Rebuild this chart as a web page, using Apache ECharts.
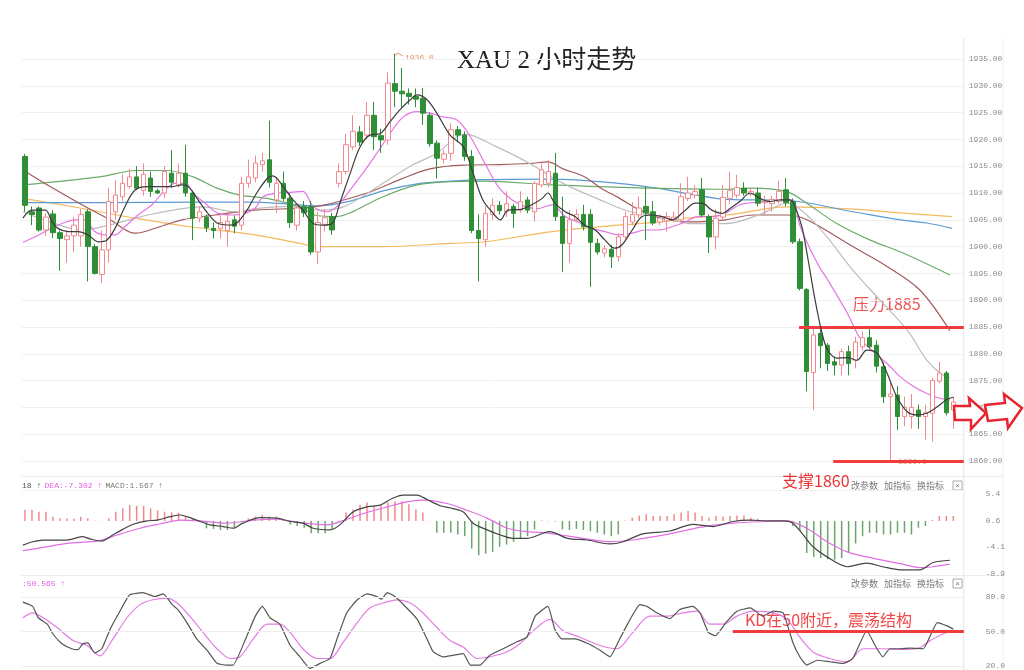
<!DOCTYPE html>
<html><head><meta charset="utf-8">
<script src="https://cdn.jsdelivr.net/npm/echarts@6/dist/echarts.min.js"></script>
<style>html,body{margin:0;padding:0;background:#fff}#c{width:1024px;height:670px}</style>
</head><body><div id="c"></div>
<script>
// ---------- DATA ----------
// candles: [open, close, low, high]
const ohlc = [
[1916.8,1907.7,1906.5,1917.3],[1906.5,1906.0,1904.0,1907.5],[1907.2,1903.1,1902.8,1907.5],[1903.1,1905.5,1902.0,1906.2],
[1906.1,1902.6,1901.6,1906.8],[1902.6,1901.5,1895.5,1903.0],[1901.3,1902.0,1897.0,1903.0],[1902.0,1904.0,1899.0,1905.5],
[1902.0,1906.0,1900.0,1907.0],[1906.5,1900.0,1893.5,1907.0],[1900.0,1895.0,1894.8,1900.5],[1894.8,1899.4,1893.2,1903.0],
[1899.4,1908.4,1897.0,1911.0],[1906.5,1909.6,1905.0,1912.4],[1909.3,1911.8,1908.5,1913.5],[1911.2,1913.0,1910.8,1914.5],
[1913.0,1910.9,1910.5,1915.0],[1910.5,1913.5,1909.5,1915.5],[1912.8,1910.3,1909.3,1914.0],[1910.4,1910.0,1909.8,1910.8],
[1910.0,1914.0,1909.0,1915.0],[1913.7,1912.0,1911.0,1918.0],[1911.5,1913.7,1911.0,1915.5],[1913.7,1910.0,1909.3,1919.0],
[1910.0,1905.3,1901.2,1910.5],[1905.3,1906.5,1904.5,1907.5],[1905.5,1903.5,1902.7,1906.0],[1903.4,1903.0,1901.5,1904.5],
[1903.4,1904.5,1901.5,1906.0],[1903.0,1904.7,1900.0,1906.0],[1905.0,1903.8,1902.5,1905.8],[1904.0,1911.8,1903.0,1913.0],
[1911.8,1913.0,1911.0,1916.2],[1912.8,1915.6,1912.0,1917.0],[1915.3,1916.0,1914.0,1917.5],[1916.2,1912.0,1911.0,1923.5],
[1908.7,1911.8,1906.3,1913.0],[1911.8,1909.0,1908.5,1914.0],[1909.0,1904.5,1903.5,1910.0],[1904.0,1907.2,1903.0,1908.0],
[1907.5,1906.3,1905.5,1908.5],[1907.5,1899.0,1898.5,1908.5],[1899.0,1904.5,1896.8,1906.5],[1904.0,1905.4,1902.8,1907.0],
[1905.6,1903.1,1902.2,1906.3],[1911.8,1914.0,1911.0,1915.5],[1914.0,1919.0,1913.5,1921.0],[1918.6,1921.5,1918.0,1924.5],
[1921.4,1919.5,1918.8,1922.5],[1920.8,1924.5,1920.0,1927.0],[1924.5,1920.5,1918.0,1927.0],[1920.7,1919.9,1917.5,1922.0],
[1919.9,1930.5,1919.0,1932.5],[1930.4,1929.0,1926.0,1936.0],[1929.0,1928.5,1926.0,1933.3],[1928.6,1928.0,1926.5,1929.5],
[1928.0,1927.5,1926.0,1929.5],[1927.7,1924.9,1922.7,1929.6],[1924.5,1919.2,1918.6,1925.0],[1919.3,1916.5,1912.7,1919.8],
[1916.3,1917.3,1915.5,1918.0],[1917.4,1921.8,1916.0,1923.0],[1921.8,1920.8,1919.5,1922.5],[1920.8,1916.8,1916.0,1921.5],
[1916.8,1903.0,1902.5,1918.0],[1903.0,1901.5,1893.5,1906.0],[1901.3,1906.2,1900.0,1907.5],[1906.0,1907.7,1905.0,1909.0],
[1907.7,1906.7,1906.0,1908.5],[1906.5,1908.0,1905.5,1910.3],[1907.5,1906.2,1903.5,1908.0],[1906.8,1908.4,1906.3,1910.3],
[1908.7,1906.8,1906.2,1909.3],[1906.5,1911.8,1904.7,1912.2],[1911.5,1914.3,1911.0,1915.5],[1911.8,1914.0,1911.0,1916.2],
[1913.7,1905.6,1904.8,1917.5],[1905.6,1900.6,1895.3,1909.3],[1900.6,1905.0,1897.0,1906.8],[1905.0,1906.0,1904.5,1907.0],
[1906.0,1903.7,1903.0,1907.8],[1906.0,1900.8,1892.5,1907.0],[1900.6,1899.0,1898.5,1901.5],[1898.8,1899.6,1898.0,1900.3],
[1899.5,1898.1,1896.0,1900.3],[1898.1,1901.8,1897.2,1902.5],[1901.8,1905.6,1901.0,1906.5],[1904.6,1906.0,1904.0,1908.3],
[1905.9,1907.2,1905.3,1909.3],[1907.5,1906.3,1901.2,1911.2],[1906.5,1904.4,1904.0,1908.5],[1904.6,1905.3,1904.0,1906.0],
[1904.8,1905.6,1902.8,1906.5],[1905.0,1905.5,1904.5,1906.5],[1905.0,1909.3,1904.5,1911.8],[1909.0,1910.0,1908.5,1913.0],
[1909.6,1910.3,1909.0,1911.5],[1910.6,1905.9,1905.5,1912.8],[1905.6,1901.8,1898.8,1906.0],[1901.8,1905.3,1899.5,1907.0],
[1905.5,1909.2,1905.0,1911.5],[1909.0,1910.5,1908.0,1914.0],[1909.6,1911.0,1909.0,1913.4],[1910.9,1910.0,1909.5,1912.0],
[1909.8,1910.3,1909.4,1911.0],[1910.0,1908.1,1907.5,1911.0],[1908.2,1908.4,1906.0,1909.5],[1908.0,1908.8,1906.5,1909.5],
[1908.4,1910.3,1908.0,1912.3],[1910.6,1908.2,1907.5,1912.8],[1908.4,1900.9,1900.5,1909.0],[1900.9,1892.2,1891.8,1901.5],
[1892.0,1876.7,1873.0,1892.3],[1876.5,1883.5,1869.5,1885.0],[1883.8,1881.5,1877.3,1885.3],[1881.6,1878.2,1876.8,1882.0],
[1878.5,1877.9,1876.0,1879.5],[1877.9,1880.4,1876.0,1881.0],[1880.4,1878.2,1876.0,1881.5],[1878.8,1882.2,1877.3,1883.2],
[1881.3,1883.0,1880.6,1884.2],[1883.0,1881.3,1881.0,1884.8],[1881.6,1877.7,1876.5,1882.5],[1877.6,1872.0,1870.8,1878.4],
[1872.0,1872.5,1859.8,1875.0],[1872.3,1868.3,1865.8,1874.0],[1868.3,1870.0,1866.5,1872.0],[1868.3,1870.0,1866.0,1872.5],
[1869.5,1868.3,1866.0,1870.5],[1868.3,1869.0,1864.0,1870.5],[1868.9,1875.0,1863.6,1875.5],[1874.9,1876.4,1874.5,1878.5],
[1876.4,1869.0,1868.5,1876.8],[1869.5,1871.0,1866.0,1872.0]
];
// moving-average lines: [candle index, price]
const ma5 = [[-0.3,1905.3],[1.0,1906.8],[2.9,1906.8],[3.9,1904.6],[4.7,1903.4],[6.2,1902.8],[7.6,1902.8],[9.0,1902.2],[10.5,1900.9],[11.7,1901.2],[12.9,1903.4],[14.3,1907.4],[15.8,1910.6],[17.6,1911.2],[19.6,1911.2],[21.1,1911.2],[22.5,1911.5],[23.4,1911.2],[24.8,1908.7],[26.2,1906.2],[27.7,1904.3],[29.7,1904.0],[31.5,1906.2],[33.2,1910.0],[34.7,1912.7],[35.5,1913.2],[37.0,1911.2],[38.4,1908.7],[39.8,1906.8],[41.3,1904.3],[42.7,1904.0],[44.0,1904.3],[45.1,1908.1],[46.6,1913.7],[48.0,1918.6],[49.4,1920.8],[50.9,1921.1],[52.3,1923.3],[53.7,1925.5],[55.2,1927.4],[56.2,1928.3],[57.6,1927.4],[59.0,1924.9],[60.9,1920.8],[62.8,1918.6],[64.2,1913.7],[65.6,1908.7],[66.9,1906.5],[68.1,1905.0],[69.2,1906.8],[71.2,1907.0],[72.6,1907.8],[74.1,1909.0],[74.9,1910.0],[75.9,1908.1],[77.4,1906.5],[78.8,1905.6],[80.2,1904.0],[81.7,1903.1],[83.1,1901.2],[84.5,1899.7],[85.5,1900.3],[87.0,1903.1],[88.4,1905.6],[89.8,1905.9],[91.3,1905.6],[92.7,1905.0],[94.6,1906.8],[96.0,1908.1],[97.0,1908.1],[98.4,1906.8],[99.9,1906.2],[101.0,1907.1],[102.4,1908.4],[103.9,1910.0],[105.3,1909.0],[106.7,1908.4],[108.2,1908.7],[109.6,1908.7],[110.3,1907.5],[111.3,1903.7],[112.2,1897.5],[113.2,1890.0],[114.2,1883.8],[115.0,1880.7],[116.3,1879.2],[117.8,1879.3],[119.2,1878.8],[120.6,1880.7],[122.1,1880.1],[123.5,1876.4],[124.9,1872.0],[126.4,1869.2],[127.8,1868.6],[129.2,1868.9],[130.7,1870.1],[132.1,1871.5],[133.0,1871.9]];
const ma10 = [[-0.3,1900.8],[1.4,1901.8],[3.3,1903.1],[5.3,1904.3],[7.2,1905.0],[8.6,1905.0],[10.0,1902.8],[11.5,1902.2],[12.9,1902.2],[14.3,1903.7],[16.2,1905.9],[18.2,1907.8],[20.1,1910.6],[21.5,1911.8],[22.9,1911.8],[24.4,1909.6],[25.8,1908.1],[27.7,1906.2],[29.7,1905.9],[31.5,1906.2],[33.0,1907.2],[34.1,1909.3],[36.1,1910.0],[38.0,1910.1],[39.8,1910.3],[41.3,1907.5],[43.3,1906.5],[44.7,1907.5],[46.6,1910.6],[48.4,1913.7],[50.4,1917.4],[52.3,1921.1],[54.2,1924.2],[56.2,1925.2],[58.0,1924.9],[59.9,1924.2],[61.9,1923.6],[63.8,1920.5],[65.9,1915.5],[67.8,1911.2],[69.8,1908.7],[71.6,1907.5],[73.5,1907.1],[75.5,1907.8],[77.4,1905.6],[79.2,1904.6],[81.2,1903.4],[83.1,1902.8],[85.0,1902.2],[87.0,1902.5],[88.8,1903.1],[90.7,1903.1],[92.7,1903.7],[94.6,1904.6],[96.4,1905.6],[98.4,1905.6],[100.3,1906.2],[102.4,1907.8],[105.3,1908.3],[108.2,1908.7],[109.9,1908.7],[111.0,1904.0],[112.5,1899.5],[113.9,1896.0],[114.9,1894.0],[117.8,1887.6],[119.6,1883.0],[121.5,1880.4],[123.5,1878.2],[125.4,1875.7],[127.2,1874.0],[129.2,1872.6],[131.1,1871.7],[132.5,1871.4]];
const ma20 = [[-0.3,1906.5],[3.6,1904.6],[8.2,1903.1],[12.9,1904.3],[17.6,1905.9],[22.5,1907.1],[25.4,1907.4],[30.1,1906.5],[33.0,1907.1],[38.0,1907.5],[42.3,1906.8],[45.8,1907.5],[50.9,1911.5],[55.2,1915.0],[59.0,1917.4],[63.0,1921.0],[67.6,1918.6],[72.3,1915.5],[77.1,1911.8],[81.9,1909.0],[86.7,1906.5],[91.4,1905.6],[95.3,1904.3],[100.3,1904.3],[105.3,1906.0],[109.2,1908.1],[112.0,1905.9],[114.9,1901.8],[118.6,1895.6],[122.5,1890.0],[126.4,1884.4],[129.2,1878.8],[131.1,1876.4],[132.5,1875.5]];
const ma30 = [[-0.3,1914.3],[3.6,1911.2],[7.9,1908.0],[12.2,1905.0],[15.8,1902.5],[19.3,1903.7],[22.5,1905.0],[27.2,1905.9],[33.0,1906.8],[41.8,1907.5],[49.0,1910.0],[53.7,1912.5],[58.0,1914.5],[62.8,1915.2],[68.1,1915.3],[72.3,1915.5],[74.9,1915.8],[77.1,1914.5],[80.2,1913.0],[82.4,1911.0],[85.2,1909.0],[88.1,1906.8],[91.4,1905.2],[95.3,1904.6],[100.3,1905.0],[104.3,1905.9],[109.2,1905.9],[111.5,1905.3],[113.9,1903.7],[118.6,1900.0],[123.5,1896.3],[128.2,1891.9],[132.5,1884.3]];
const ma60 = [[-0.3,1911.5],[10.7,1913.0],[16.0,1914.2],[20.3,1914.2],[24.1,1913.0],[27.5,1910.9],[30.8,1909.6],[34.7,1909.0],[39.4,1907.4],[41.8,1905.8],[44.7,1905.6],[46.6,1906.3],[51.3,1909.3],[56.2,1911.5],[60.9,1912.1],[65.6,1912.2],[75.5,1911.5],[80.2,1911.3],[89.8,1910.9],[100.3,1910.7],[104.3,1910.9],[109.2,1910.2],[112.0,1908.1],[116.3,1904.3],[121.1,1901.2],[125.8,1898.8],[132.5,1894.7]];
const ma120 = [[-0.3,1908.2],[10.7,1908.2],[25.1,1908.3],[32.2,1908.3],[37.0,1908.0],[41.8,1907.6],[46.6,1908.5],[51.3,1910.4],[56.2,1911.7],[60.9,1912.2],[65.6,1912.5],[75.5,1912.6],[85.0,1911.8],[91.0,1910.8],[95.3,1909.8],[100.6,1908.8],[109.2,1908.6],[118.6,1906.5],[125.4,1905.0],[129.2,1904.4],[132.8,1903.4]];
const ma250 = [[-0.3,1909.0],[7.9,1907.2],[15.8,1905.3],[23.6,1903.7],[33.0,1902.2],[39.4,1900.6],[41.8,1900.0],[51.3,1900.0],[60.9,1900.6],[65.9,1900.9],[75.5,1902.8],[85.0,1904.0],[91.0,1904.6],[94.6,1905.3],[100.6,1905.9],[109.2,1907.4],[118.6,1907.0],[125.4,1906.3],[132.8,1905.6]];
// MACD panel
const macdHist = [2.0,2.0,1.65,1.65,0.77,0.5,0.5,0.4,0.77,0.5,0.05,0.05,0.5,1.65,2.26,2.85,2.7,2.7,2.26,1.9,1.65,1.55,1.45,0.9,0.4,0.05,-1.3,-1.4,-1.6,-1.6,-1.1,-0.05,0.5,0.8,1.1,0.8,0.8,0.3,-0.6,-0.9,-1.2,-2.2,-2.2,-2.2,-1.5,0.05,1.5,2.1,2.9,3.3,2.7,2.7,3.3,3.5,3.5,3.0,2.1,1.5,0.05,-2.1,-2.1,-2.1,-2.4,-2.7,-4.9,-6.1,-5.8,-5.5,-4.6,-4.2,-3.7,-3.1,-2.7,-1.5,0.1,0.05,-0.1,-1.5,-1.6,-1.4,-1.6,-1.8,-2.1,-2.4,-2.7,-2.4,0.1,0.6,1.0,1.2,0.9,0.9,0.9,1.2,1.5,1.8,1.5,0.9,0.6,0.9,0.8,0.9,1.0,1.0,0.6,0.4,0.2,0.2,0.2,0.1,-0.9,-1.8,-5.7,-6.4,-6.6,-6.8,-6.9,-6.6,-5.5,-4.0,-2.7,-2.1,-2.1,-2.4,-2.4,-2.1,-2.1,-2.4,-1.2,-0.9,0.2,0.9,0.9,0.9];
const dif = [[-0.3,-3.7],[1.1,-3.1],[2.6,-2.8],[6.0,-2.8],[8.2,-2.2],[9.3,-2.6],[11.0,-3.0],[12.2,-2.2],[14.0,-0.9],[15.5,0.0],[17.5,0.6],[18.9,0.75],[20.8,1.35],[22.2,1.65],[23.2,1.35],[24.6,0.75],[26.5,-0.1],[28.4,-0.4],[29.8,-0.7],[31.2,0.2],[33.7,1.2],[36.1,1.1],[38.0,0.5],[39.8,0.2],[41.3,-0.7],[43.7,-1.0],[45.1,-0.1],[47.0,2.2],[49.0,3.1],[50.9,3.4],[52.6,4.6],[54.2,5.2],[56.2,5.2],[57.6,4.4],[59.5,3.3],[61.3,2.8],[62.8,2.2],[64.2,0.2],[66.2,-1.0],[68.1,-1.9],[69.9,-2.5],[71.9,-2.5],[75.2,-1.3],[77.7,-2.5],[80.5,-2.8],[83.8,-3.5],[85.7,-3.1],[88.5,-1.7],[92.4,-1.2],[95.7,0.0],[98.6,-0.4],[101.4,0.5],[103.9,0.75],[106.3,0.6],[108.6,0.6],[110.0,0.2],[111.5,-1.9],[112.9,-4.0],[114.9,-5.8],[117.8,-7.55],[120.6,-6.9],[122.9,-7.55],[125.4,-8.1],[128.2,-8.1],[130.1,-6.8],[132.5,-6.4]];
const dea = [[-0.3,-4.7],[2.6,-4.1],[6.0,-3.4],[10.7,-2.9],[13.2,-1.9],[16.5,-0.7],[19.3,0.05],[22.2,0.75],[25.1,0.6],[28.9,0.2],[32.7,0.75],[36.1,0.9],[39.4,0.3],[43.3,-0.1],[46.1,0.9],[49.0,2.1],[51.9,3.1],[54.7,4.0],[57.0,4.3],[60.5,3.7],[63.3,2.5],[66.2,1.1],[69.1,-0.7],[71.9,-1.3],[75.2,-1.6],[79.9,-2.5],[83.8,-3.1],[87.1,-2.8],[92.0,-1.8],[96.7,-0.55],[101.4,0.2],[106.3,0.5],[109.2,0.6],[112.0,-0.7],[114.9,-3.1],[117.8,-4.9],[120.6,-5.8],[125.4,-7.0],[128.2,-7.7],[130.1,-7.55],[132.5,-7.1]];
// KD panel
const kLine = [[-0.3,75.5],[1.1,71.8],[1.9,61.9],[3.2,56.3],[4.0,47.8],[5.3,39.3],[6.7,35],[7.6,34.2],[8.3,39.3],[9.0,40.1],[10.0,31.3],[11.0,35],[12.2,52],[13.6,67.6],[15.0,81.8],[16.9,83.7],[18.6,80.3],[19.8,82.6],[21.1,73.3],[21.9,69],[23.2,57.7],[24.6,43.5],[26.1,33.6],[27.5,22.3],[28.9,20.8],[29.8,20.8],[31.8,46.3],[33.0,63.3],[34.0,71.8],[35.1,61.9],[36.5,56.3],[38.0,37.8],[39.4,28],[40.8,18],[42.3,22.3],[43.7,26.5],[44.7,43.5],[46.1,66.2],[47.6,77.5],[49.0,82.6],[50.4,80.3],[51.1,78.1],[51.9,83.7],[53.0,80.3],[54.7,70.4],[56.2,60.5],[57.6,43.5],[58.5,32.2],[59.9,28],[61.3,29.3],[62.8,30.8],[63.8,20.8],[65.2,20.8],[66.6,29.3],[68.5,35],[70.5,41],[71.9,45],[73.1,63.3],[74.9,71.8],[75.9,52],[76.9,43.5],[78.8,43.5],[80.7,39.3],[82.4,33.6],[83.8,28],[85.2,43.5],[86.7,60.5],[88.1,73.3],[89.1,71.8],[90.5,66.2],[92.4,61.1],[93.8,69],[95.7,71.8],[96.7,66.2],[97.9,49.2],[98.9,46.3],[100.6,59],[102.0,67.6],[103.9,70.4],[105.7,63.3],[107.2,67.6],[108.6,66.2],[110.0,40.7],[111.0,28],[112.0,20.8],[113.5,25],[115.3,23.7],[117.2,22.3],[118.6,26.5],[120.6,50.6],[121.8,37.8],[122.9,28],[123.9,35],[125.4,35],[126.8,35.6],[128.7,35],[129.7,46.3],[130.7,57.7],[132.1,54.8],[133.0,52]];
const dLine = [[-0.3,61.9],[1.1,66.2],[2.6,61.9],[4.6,53.4],[6.9,42.1],[8.9,37.8],[10.7,28.8],[12.6,43.5],[14.6,61.9],[16.5,73.3],[18.3,77.5],[20.3,79],[21.8,74.7],[23.6,63.3],[25.5,49.2],[27.5,35],[29.4,26.5],[30.8,28],[32.7,43.5],[34.7,56.3],[36.5,56.3],[38.0,49.2],[39.8,35],[41.8,26.5],[43.7,26.5],[45.6,40.7],[47.6,57.7],[49.4,70.4],[51.3,74.7],[53.3,77.5],[55.2,74.7],[57.0,66.2],[59.0,53.4],[60.9,42.1],[62.8,36.4],[64.8,26.5],[66.6,28],[69.0,32.2],[70.9,39.3],[72.8,50.6],[75.2,60.5],[77.1,50.6],[79.5,45],[82.4,37.8],[84.8,35],[87.1,49.2],[89.5,63.3],[92.0,63.3],[94.3,66.2],[96.3,67.6],[98.1,56.3],[100.0,56.3],[102.0,63.3],[104.3,67.6],[107.2,66.2],[109.2,60.5],[111.0,45],[112.9,32.2],[115.3,26.5],[117.8,23.7],[120.1,35],[122.9,35],[125.4,34.4],[127.8,35],[129.7,42.1],[131.5,47.8],[133.0,50.6]];
// axis tick labels
const macdTicks = [5.4, 0.6, -4.1, -8.9];
const kdTicks = [20, 50, 80];
// annotation levels
const resistance = 1885, support = 1860, kdLevel = 50;
const peakLabel = '1936.0', lowLabel = '1860.0';

// ---------- CHART ----------
const NCAT = 135;
const cats = []; for (let i = 0; i < NCAT; i++) cats.push(String(i));
const chart = echarts.init(document.getElementById('c'), null, {renderer: 'canvas'});
const G = {left: 21.5, right: 60.2};
const monoFont = 'Liberation Mono';
const cjk = 'Noto Sans CJK SC';
function hx(gi){ return {type:'category', gridIndex:gi, data:cats, show:false, boundaryGap:true}; }
function vx(gi){ return {type:'value', gridIndex:gi, min:-0.5, max:NCAT-0.5, show:false}; }
function maLine(data, color, w){ return {type:'line', xAxisIndex:3, yAxisIndex:0, data, showSymbol:false, smooth:0.35, silent:true, lineStyle:{color, width:w||1}, z:3}; }
const lbl = {fontSize:8, color:'#8c8c8c', fontFamily:monoFont};

const option = {
  animation:false,
  backgroundColor:'#ffffff',
  grid:[
    {left:G.left, right:G.right, top:32.2, height:455.6},
    {left:G.left, right:G.right, top:490, height:86},
    {left:G.left, right:G.right, top:590, height:80}
  ],
  xAxis:[hx(0), hx(1), hx(2), vx(0), vx(1), vx(2)],
  yAxis:[
    {type:'value', gridIndex:0, position:'right', min:1855, max:1940, interval:5,
     axisLine:{show:false}, axisTick:{show:false},
     splitLine:{show:true, showMinLine:false, showMaxLine:false, lineStyle:{color:'#f0f0f0', width:1}},
     axisLabel:Object.assign({margin:5, formatter:v => (v < 1860 || v > 1935) ? '' : v.toFixed(2)}, lbl)},
    {type:'value', gridIndex:1, position:'right', min:-9.2, max:6.1,
     axisLine:{show:false}, axisTick:{show:false}, splitLine:{show:false},
     axisLabel:Object.assign({margin:22, customValues:macdTicks, formatter:v => v.toFixed(1)}, lbl)},
    {type:'value', gridIndex:1, min:-9.79, max:5.52, show:false},
    {type:'value', gridIndex:2, position:'right', min:18, max:86,
     axisLine:{show:false}, axisTick:{show:false}, splitLine:{show:false},
     axisLabel:Object.assign({margin:22, customValues:kdTicks, formatter:v => v.toFixed(1)}, lbl)}
  ],
  series:[
    maLine(ma250, '#f6b95e', 1.2),
    maLine(ma120, '#5b9bd5', 1.2),
    maLine(ma60, '#6cab6c', 1.2),
    maLine(ma30, '#a45a5c', 1.2),
    maLine(ma20, '#bdbdbd', 1.2),
    {type:'candlestick', xAxisIndex:0, yAxisIndex:0, data:ohlc, barWidth:5, z:4,
     itemStyle:{color:'#ffffff', color0:'#2f8f36', borderColor:'#f08a8e', borderColor0:'#2f8f36', borderWidth:1}},
    maLine(ma10, '#e474e4', 1.2),
    Object.assign(maLine(ma5, '#3c3c3c', 1.2), {z:5}),
    {type:'line', xAxisIndex:3, yAxisIndex:0, data:[], silent:true, z:6,
     markLine:{silent:true, symbol:['none','none'], label:{show:false},
       lineStyle:{color:'#f03c3c', width:3, type:'solid'},
       data:[
         [{coord:[110.9, resistance]}, {coord:[NCAT-0.5, resistance]}],
         [{coord:[115.8, support]}, {coord:[NCAT-0.5, support]}]
       ]}},
    // MACD
    {type:'bar', xAxisIndex:1, yAxisIndex:2, barWidth:1.5, silent:true,
     data:macdHist.map(v => ({value:v, itemStyle:{color: v >= 0 ? '#f0898c' : '#6aa56a'}})),
     markLine:{silent:true, symbol:['none','none'], label:{show:false}, lineStyle:{color:'#f1f1f1', width:1, type:'solid'},
       data:[{yAxis:5.52-(5.4-0.6)*0+0.0001}]}},
    {type:'line', xAxisIndex:4, yAxisIndex:1, data:dif, showSymbol:false, smooth:0.3, silent:true, lineStyle:{color:'#444', width:1.2}, z:4},
    {type:'line', xAxisIndex:4, yAxisIndex:1, data:dea, showSymbol:false, smooth:0.3, silent:true, lineStyle:{color:'#e36ee3', width:1.2}, z:3},
    // KD
    {type:'line', xAxisIndex:5, yAxisIndex:3, data:kLine, showSymbol:false, smooth:0.15, silent:true, lineStyle:{color:'#555', width:1.2}, z:4,
     markLine:{silent:true, symbol:['none','none'], label:{show:false}, lineStyle:{color:'#eeeeee', width:1, type:'solid'},
       data:[{yAxis:20},{yAxis:50},{yAxis:80}]}},
    {type:'line', xAxisIndex:5, yAxisIndex:3, data:dLine, showSymbol:false, smooth:0.3, silent:true, lineStyle:{color:'#e47be4', width:1.2}, z:3},
    {type:'line', xAxisIndex:5, yAxisIndex:3, data:[], silent:true, z:6,
     markLine:{silent:true, symbol:['none','none'], label:{show:false}, lineStyle:{color:'#f03c3c', width:3, type:'solid'},
       data:[[{coord:[101.4, kdLevel]}, {coord:[NCAT-0.5, kdLevel]}]]}}
  ],
  graphic:[
    // panel frame lines
    {type:'line', shape:{x1:963.8, y1:38, x2:963.8, y2:670}, style:{stroke:'#e4e4e4', lineWidth:1}, silent:true},
    {type:'line', shape:{x1:1003, y1:38, x2:1003, y2:670}, style:{stroke:'#f0f0f0', lineWidth:1}, silent:true},
    {type:'line', shape:{x1:21.5, y1:476.5, x2:1003, y2:476.5}, style:{stroke:'#ececec', lineWidth:1}, silent:true},
    {type:'line', shape:{x1:21.5, y1:575.5, x2:1003, y2:575.5}, style:{stroke:'#ececec', lineWidth:1}, silent:true},
    // title
    {type:'text', x:457, y:61, style:{text:'XAU 2 小时走势', fontSize:25, fontFamily:'Liberation Serif, ' + cjk, fill:'#222', textVerticalAlign:'middle', verticalAlign:'middle'}},
    // peak / low labels
    {type:'polyline', shape:{points:[[394.5,55.5],[398,53],[403,56]]}, style:{stroke:'#e8906a', lineWidth:1, fill:null}, silent:true},
    {type:'text', x:405, y:58, style:{text:peakLabel, fontSize:8, fontFamily:monoFont, fill:'#e8906a', textVerticalAlign:'middle', verticalAlign:'middle'}},
    {type:'text', x:898, y:462, z:-1, style:{text:lowLabel, fontSize:8, fontFamily:monoFont, fill:'#e8906a', textVerticalAlign:'middle', verticalAlign:'middle'}},
    // annotations
    {type:'text', x:853, y:304, style:{text:'压力' + resistance, fontSize:16, fontFamily:cjk, fill:'#ef5050', textVerticalAlign:'middle', verticalAlign:'middle'}},
    {type:'text', x:782, y:481, style:{text:'支撑' + support, fontSize:16, fontFamily:cjk, fill:'#ea3434', textVerticalAlign:'middle', verticalAlign:'middle'}},
    {type:'text', x:745, y:620, style:{text:'KD在50附近，震荡结构', fontSize:16, fontFamily:cjk, fill:'#ef4646', textVerticalAlign:'middle', verticalAlign:'middle'}},
    // indicator headers
    {type:'text', x:22, y:486, style:{rich:{a:{fill:'#555', fontSize:8, fontFamily:monoFont}, b:{fill:'#e060e0', fontSize:8, fontFamily:monoFont}, c:{fill:'#777', fontSize:8, fontFamily:monoFont}}, text:'{a|18 ↑} {b|DEA:-7.302 ↑} {c|MACD:1.567 ↑}', textVerticalAlign:'middle', verticalAlign:'middle'}},
    {type:'text', x:22, y:584, style:{text:':50.565 ↑', fontSize:8, fontFamily:monoFont, fill:'#e060e0', textVerticalAlign:'middle', verticalAlign:'middle'}},
    {type:'text', x:851, y:486, style:{text:'改参数   加指标   换指标', fontSize:9, fontFamily:cjk, fill:'#777', textVerticalAlign:'middle', verticalAlign:'middle'}},
    {type:'rect', shape:{x:953, y:481, width:9, height:9}, style:{stroke:'#aaa', fill:'#fff', lineWidth:1}},
    {type:'text', x:957.5, y:485.5, style:{text:'×', fontSize:8, fill:'#777', textAlign:'center', align:'center', textVerticalAlign:'middle', verticalAlign:'middle'}},
    {type:'text', x:851, y:584, style:{text:'改参数   加指标   换指标', fontSize:9, fontFamily:cjk, fill:'#777', textVerticalAlign:'middle', verticalAlign:'middle'}},
    {type:'rect', shape:{x:953, y:579, width:9, height:9}, style:{stroke:'#aaa', fill:'#fff', lineWidth:1}},
    {type:'text', x:957.5, y:583.5, style:{text:'×', fontSize:8, fill:'#777', textAlign:'center', align:'center', textVerticalAlign:'middle', verticalAlign:'middle'}},
    // red hollow arrows
    {type:'polygon', shape:{points:[[954,406],[970,406],[969,398],[986,413],[971,429],[971,420],[955,420]]}, style:{stroke:'#e8232b', lineWidth:2.5, fill:'#fff'}, z:10},
    {type:'polygon', shape:{points:[[985,405],[1005,403],[1004,394],[1022,408],[1008,428],[1007,419],[988,421]]}, style:{stroke:'#e8232b', lineWidth:2.5, fill:'#fff'}, z:10}
  ]
};
chart.setOption(option);
</script></body></html>
